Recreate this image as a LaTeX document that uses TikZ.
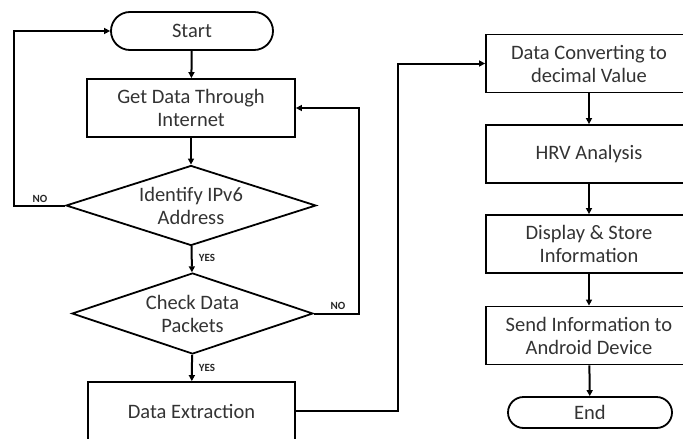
\documentclass[tikz,border=0pt]{standalone}
\usepackage{fontspec}
\setmainfont{Carlito}
\usetikzlibrary{shapes.geometric,shapes.misc,arrows.meta}
\begin{document}
\begin{tikzpicture}[x=1pt,y=-1pt,
  every node/.style={font=\fontsize{20.5}{23}\selectfont, text=black!80, align=center},
  proc/.style={draw=black, line width=1.8pt, rectangle, minimum width=207pt, minimum height=58pt, inner sep=0pt},
  term/.style={draw=black, line width=1.8pt, rounded rectangle, inner sep=0pt},
  dec/.style={draw=black, line width=1.8pt, diamond, aspect=3, inner sep=0pt},
  lbl/.style={font=\fontsize{11}{13}\selectfont\bfseries, text=black!85},
  conn/.style={line width=2pt, -{Triangle[length=6pt,width=6pt]}}
]
\useasboundingbox (0,0) rectangle (683,439);
\node[term, minimum width=162pt, minimum height=38pt] (start) at (192,31) {Start};
\node[proc, minimum width=208pt] (get) at (191,108) {Get Data Through\\Internet};
\node[dec, minimum width=250pt, minimum height=80pt] (idn) at (191,205.5) {Identify IPv6\\Address};
\node[dec, minimum width=241pt, minimum height=81pt] (chk) at (192.5,313.5) {Check Data\\Packets};
\node[proc] (ext) at (191.5,411) {Data Extraction};
\node[proc, minimum width=206pt] (conv) at (589,63.5) {Data Converting to\\decimal Value};
\node[proc, minimum width=206pt] (hrv) at (589,154) {HRV Analysis};
\node[proc, minimum width=206pt] (disp) at (589,244) {Display \& Store\\Information};
\node[proc, minimum width=206pt] (send) at (589,335.5) {Send Information to\\Android Device};
\node[term, minimum width=164pt, minimum height=31pt] (end) at (590,412.5) {End};

\node[lbl] (no1) at (40,199) {NO};
\node[lbl] (yes1) at (207,258) {YES};
\node[lbl] (no2) at (338,306) {NO};
\node[lbl] (yes2) at (207,368) {YES};

\coordinate (l1) at (14,205.5);
\coordinate (r1) at (359,313.5);
\coordinate (m1) at (398,411);

\draw[conn] (start) -- (get);
\draw[conn] (get) -- (idn);
\draw[conn] (idn) -- (chk);
\draw[conn] (chk) -- (ext);
\draw[conn] (idn.west) -- (l1) |- (start.west);
\draw[conn] (chk.east) -- (r1) |- (get.east);
\draw[conn] (ext.east) -- (m1) |- (conv.west);
\draw[conn] (conv) -- (hrv);
\draw[conn] (hrv) -- (disp);
\draw[conn] (disp) -- (send);
\draw[conn] (send) -- (end);
\end{tikzpicture}
\end{document}
